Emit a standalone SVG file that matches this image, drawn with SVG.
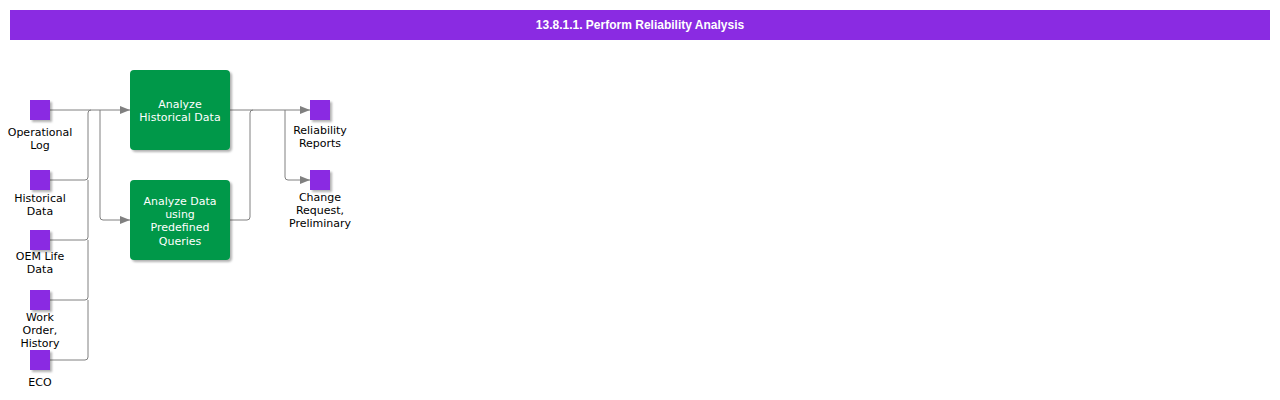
<svg xmlns="http://www.w3.org/2000/svg" width="1280" height="400" viewBox="0 0 1280 400">
<style>
.t{font-family:"DejaVu Sans",Verdana,sans-serif;font-size:11px;text-anchor:middle;fill:#000}
.w{fill:#fff}
.sq{fill:#8A2BE2}
.bx{fill:#00984A}
.c{fill:none;stroke:#808080;stroke-width:1}
</style>
<defs>
<filter id="sh" x="-20%" y="-20%" width="150%" height="150%">
<feDropShadow dx="2" dy="2" stdDeviation="1.2" flood-color="#000" flood-opacity="0.3"/>
</filter>
<marker id="a" markerWidth="10" markerHeight="8" refX="10" refY="4" orient="auto" markerUnits="userSpaceOnUse">
<path d="M0,0 L10,4 L0,8 Z" fill="#808080"/>
</marker>
</defs>
<rect x="0" y="0" width="1280" height="400" fill="#fff"/>
<g id="header">
<rect x="10" y="10" width="1260" height="30" fill="#8A2BE2"/>
<text x="640" y="29" style="font-family:'Liberation Sans',Arial,sans-serif;font-size:12px;font-weight:bold;text-anchor:middle;fill:#fff">13.8.1.1. Perform Reliability Analysis</text>
</g>
<g id="connectors">
<path class="c" d="M50,110 H130" marker-end="url(#a)"/>
<path class="c" d="M50,180 H85 Q88,180 88,177 V113 Q88,110 91,110"/>
<path class="c" d="M50,240 H85 Q88,240 88,237 V180"/>
<path class="c" d="M50,300 H85 Q88,300 88,297 V240"/>
<path class="c" d="M50,360 H85 Q88,360 88,357 V300"/>
<path class="c" d="M100,110 V217 Q100,220 103,220 H130" marker-end="url(#a)"/>
<path class="c" d="M230,110 H310" marker-end="url(#a)"/>
<path class="c" d="M230,220 H247 Q250,220 250,217 V113 Q250,110 253,110"/>
<path class="c" d="M285,110 V177 Q285,180 288,180 H310" marker-end="url(#a)"/>
</g>
<g id="operational-log">
<rect class="sq" x="30" y="100" width="20" height="20" filter="url(#sh)"/>
<text class="t" x="40" y="136">Operational</text>
<text class="t" x="40" y="149">Log</text>
</g>
<g id="historical-data">
<rect class="sq" x="30" y="170" width="20" height="20" filter="url(#sh)"/>
<text class="t" x="40" y="202">Historical</text>
<text class="t" x="40" y="215">Data</text>
</g>
<g id="oem-life-data">
<rect class="sq" x="30" y="230" width="20" height="20" filter="url(#sh)"/>
<text class="t" x="40" y="260">OEM Life</text>
<text class="t" x="40" y="273">Data</text>
</g>
<g id="work-order-history">
<rect class="sq" x="30" y="290" width="20" height="20" filter="url(#sh)"/>
<text class="t" x="40" y="321">Work</text>
<text class="t" x="40" y="334">Order,</text>
<text class="t" x="40" y="347">History</text>
</g>
<g id="eco">
<rect class="sq" x="30" y="350" width="20" height="20" filter="url(#sh)"/>
<text class="t" x="40" y="386">ECO</text>
</g>
<g id="analyze-historical-data">
<rect class="bx" x="130" y="70" width="100" height="80" rx="4" filter="url(#sh)"/>
<text class="t w" x="180" y="108">Analyze</text>
<text class="t w" x="180" y="121">Historical Data</text>
</g>
<g id="analyze-data-predefined">
<rect class="bx" x="130" y="180" width="100" height="80" rx="4" filter="url(#sh)"/>
<text class="t w" x="180" y="205">Analyze Data</text>
<text class="t w" x="180" y="218">using</text>
<text class="t w" x="180" y="231">Predefined</text>
<text class="t w" x="180" y="245">Queries</text>
</g>
<g id="reliability-reports">
<rect class="sq" x="310" y="100" width="20" height="20" filter="url(#sh)"/>
<text class="t" x="320" y="134">Reliability</text>
<text class="t" x="320" y="147">Reports</text>
</g>
<g id="change-request">
<rect class="sq" x="310" y="170" width="20" height="20" filter="url(#sh)"/>
<text class="t" x="320" y="201">Change</text>
<text class="t" x="320" y="214">Request,</text>
<text class="t" x="320" y="227">Preliminary</text>
</g>
</svg>
